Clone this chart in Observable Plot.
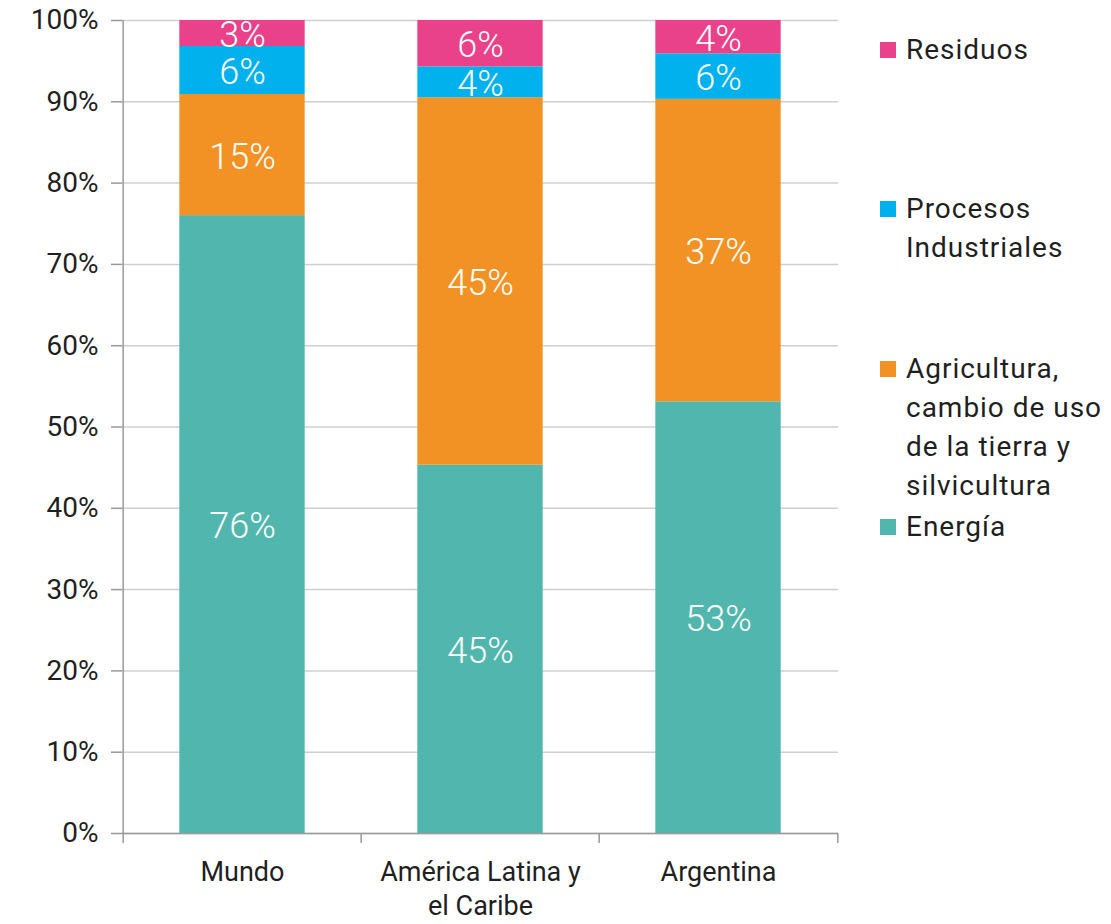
<!DOCTYPE html>
<html>
<head>
<meta charset="utf-8">
<script src="https://cdn.jsdelivr.net/npm/d3@7"></script>
<script src="https://cdn.jsdelivr.net/npm/@observablehq/plot@0.6"></script>
<style>
  html, body { margin: 0; padding: 0; background: #fff; }
  #wrap { position: relative; width: 1111px; height: 924px; font-family: Roboto, "Noto Sans", sans-serif; }
  .leg { position: absolute; left: 880px; font-size: 28px; line-height: 39px; color: #1f1f1f; letter-spacing: 0.035em; }
  .leg .sw { position: absolute; left: 0; top: 12px; width: 16px; height: 16px; }
  .leg .tx { margin-left: 26px; white-space: pre; }
</style>
</head>
<body>
<div id="wrap"></div>
<script>
const regions = ["Mundo", "América Latina y el Caribe", "Argentina"];
const regionLabels = ["Mundo", "América Latina y\nel Caribe", "Argentina"];
const sectors = ["Energía", "Agricultura, cambio de uso de la tierra y silvicultura", "Procesos Industriales", "Residuos"];
const sectorLegend = ["Energía", "Agricultura,\ncambio de uso\nde la tierra y\nsilvicultura", "Procesos\nIndustriales", "Residuos"];
const colors = ["#51b7ae", "#f39224", "#00b1ee", "#e9418a"];
// shares (%) per sector, in the order of regions
const energia = [76.0, 45.3, 53.1];
const agricultura = [14.9, 45.2, 37.2];
const procesos = [5.9, 3.8, 5.6];
const residuos = [3.2, 5.7, 4.1];
const labels = [
  ["76%", "45%", "53%"],
  ["15%", "45%", "37%"],
  ["6%", "4%", "6%"],
  ["3%", "6%", "4%"]
];
const yTicks = [0, 10, 20, 30, 40, 50, 60, 70, 80, 90, 100];

const series = [energia, agricultura, procesos, residuos];
const data = [];
sectors.forEach((s, i) => regions.forEach((r, j) => data.push({region: r, sector: s, value: series[i][j], label: labels[i][j]})));

const W = 1111, H = 924, mL = 122, mR = 273, mT = 20, mB = 91;
const step = (W - mL - mR) / regions.length;
const barW = 126;
const inset = (step - barW) / 2;
const axisColor = "#999";

const chart = Plot.plot({
  width: W, height: H,
  marginLeft: mL, marginRight: mR, marginTop: mT, marginBottom: mB,
  style: {fontFamily: "Roboto, 'Noto Sans', sans-serif", background: "#fff"},
  x: {domain: regions, padding: 0, label: null},
  y: {domain: [0, 100], label: null},
  color: {domain: sectors, range: colors},
  marks: [
    Plot.gridY(yTicks, {stroke: "#cfcfcf", strokeOpacity: 1, strokeWidth: 1.5}),
    Plot.barY(data, {x: "region", y: "value", fill: "sector", insetLeft: inset, insetRight: inset, order: sectors}),
    Plot.textY(data, Plot.stackY({x: "region", y: "value", z: "sector", order: sectors, text: "label", fill: "white", fontSize: 36, fontWeight: 300, letterSpacing: "0.03em", dy: 2})),
    Plot.ruleY([0], {stroke: axisColor, strokeWidth: 1.5}),
    Plot.ruleX(regions.slice(0, 1), {x: d => d, dx: -step / 2, y1: 0, y2: 100, stroke: axisColor, strokeWidth: 1.5}),
    Plot.ruleX(regions, {x: d => d, dx: -step / 2, y1: 0, y2: 0, insetBottom: -10, stroke: axisColor, strokeWidth: 1.5}),
    Plot.ruleX(regions.slice(-1), {x: d => d, dx: step / 2, y1: 0, y2: 0, insetBottom: -10, stroke: axisColor, strokeWidth: 1.5}),
    Plot.axisY(yTicks, {tickSize: 11, tickPadding: 13, tickFormat: d => d + "%", fontSize: 28, letterSpacing: "0.05em", fill: "#1f1f1f", stroke: axisColor, strokeWidth: 1.5}),
    Plot.axisX({tickSize: 0, tickPadding: 24, tickFormat: d => regionLabels[regions.indexOf(d)], fontSize: 27, letterSpacing: "0.025em", lineHeight: 1.25, fill: "#1f1f1f", textAnchor: "middle"})
  ]
});
const wrap = document.getElementById("wrap");
wrap.appendChild(chart);

const legTops = [507, 349, 189, 30];
sectors.forEach((s, i) => {
  const d = document.createElement("div");
  d.className = "leg";
  d.style.top = legTops[i] + "px";
  d.innerHTML = `<div class="sw" style="background:${colors[i]}"></div><div class="tx"></div>`;
  d.querySelector(".tx").textContent = sectorLegend[i];
  wrap.appendChild(d);
});
</script>
</body>
</html>
